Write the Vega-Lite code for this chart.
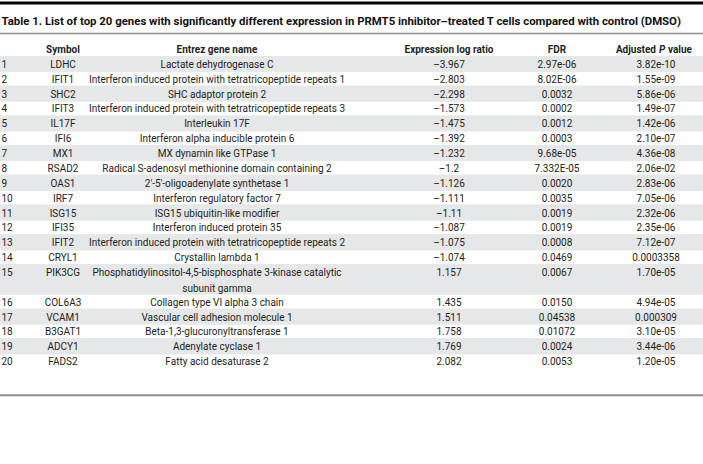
{
  "$schema": "https://vega.github.io/schema/vega-lite/v6.json",
  "width": 703,
  "height": 430,
  "autosize": {"type": "none"},
  "padding": {"top": 34, "left": 0, "right": 0, "bottom": 0},
  "background": "white",
  "config": {"view": {"stroke": null}},
  "datasets": {
    "genes": [
      {"n": 1, "line": 1, "lineEnd": 1, "symbol": "LDHC", "name": "Lactate dehydrogenase C", "ratio": "–3.967", "fdr": "2.97e-06", "padj": "3.82e-10"},
      {"n": 2, "line": 2, "lineEnd": 2, "symbol": "IFIT1", "name": "Interferon induced protein with tetratricopeptide repeats 1", "ratio": "–2.803", "fdr": "8.02E-06", "padj": "1.55e-09"},
      {"n": 3, "line": 3, "lineEnd": 3, "symbol": "SHC2", "name": "SHC adaptor protein 2", "ratio": "–2.298", "fdr": "0.0032", "padj": "5.86e-06"},
      {"n": 4, "line": 4, "lineEnd": 4, "symbol": "IFIT3", "name": "Interferon induced protein with tetratricopeptide repeats 3", "ratio": "–1.573", "fdr": "0.0002", "padj": "1.49e-07"},
      {"n": 5, "line": 5, "lineEnd": 5, "symbol": "IL17F", "name": "Interleukin 17F", "ratio": "–1.475", "fdr": "0.0012", "padj": "1.42e-06"},
      {"n": 6, "line": 6, "lineEnd": 6, "symbol": "IFI6", "name": "Interferon alpha inducible protein 6", "ratio": "–1.392", "fdr": "0.0003", "padj": "2.10e-07"},
      {"n": 7, "line": 7, "lineEnd": 7, "symbol": "MX1", "name": "MX dynamin like GTPase 1", "ratio": "–1.232", "fdr": "9.68e-05", "padj": "4.36e-08"},
      {"n": 8, "line": 8, "lineEnd": 8, "symbol": "RSAD2", "name": "Radical S-adenosyl methionine domain containing 2", "ratio": "–1.2", "fdr": "7.332E-05", "padj": "2.06e-02"},
      {"n": 9, "line": 9, "lineEnd": 9, "symbol": "OAS1", "name": "2′-5′-oligoadenylate synthetase 1", "ratio": "–1.126", "fdr": "0.0020", "padj": "2.83e-06"},
      {"n": 10, "line": 10, "lineEnd": 10, "symbol": "IRF7", "name": "Interferon regulatory factor 7", "ratio": "–1.111", "fdr": "0.0035", "padj": "7.05e-06"},
      {"n": 11, "line": 11, "lineEnd": 11, "symbol": "ISG15", "name": "ISG15 ubiquitin-like modifier", "ratio": "–1.11", "fdr": "0.0019", "padj": "2.32e-06"},
      {"n": 12, "line": 12, "lineEnd": 12, "symbol": "IFI35", "name": "Interferon induced protein 35", "ratio": "–1.087", "fdr": "0.0019", "padj": "2.35e-06"},
      {"n": 13, "line": 13, "lineEnd": 13, "symbol": "IFIT2", "name": "Interferon induced protein with tetratricopeptide repeats 2", "ratio": "–1.075", "fdr": "0.0008", "padj": "7.12e-07"},
      {"n": 14, "line": 14, "lineEnd": 14, "symbol": "CRYL1", "name": "Crystallin lambda 1", "ratio": "–1.074", "fdr": "0.0469", "padj": "0.0003358"},
      {"n": 15, "line": 15, "lineEnd": 16, "symbol": "PIK3CG", "name": "Phosphatidylinositol-4,5-bisphosphate 3-kinase catalytic\nsubunit gamma", "ratio": "1.157", "fdr": "0.0067", "padj": "1.70e-05"},
      {"n": 16, "line": 17, "lineEnd": 17, "symbol": "COL6A3", "name": "Collagen type VI alpha 3 chain", "ratio": "1.435", "fdr": "0.0150", "padj": "4.94e-05"},
      {"n": 17, "line": 18, "lineEnd": 18, "symbol": "VCAM1", "name": "Vascular cell adhesion molecule 1", "ratio": "1.511", "fdr": "0.04538", "padj": "0.000309"},
      {"n": 18, "line": 19, "lineEnd": 19, "symbol": "B3GAT1", "name": "Beta-1,3-glucuronyltransferase 1", "ratio": "1.758", "fdr": "0.01072", "padj": "3.10e-05"},
      {"n": 19, "line": 20, "lineEnd": 20, "symbol": "ADCY1", "name": "Adenylate cyclase 1", "ratio": "1.769", "fdr": "0.0024", "padj": "3.44e-06"},
      {"n": 20, "line": 21, "lineEnd": 21, "symbol": "FADS2", "name": "Fatty acid desaturase 2", "ratio": "2.082", "fdr": "0.0053", "padj": "1.20e-05"}
    ],
    "columns": [
      {"key": "n", "idx": 1, "line": 0, "header": ""},
      {"key": "symbol", "idx": 2, "line": 0, "header": "Symbol"},
      {"key": "name", "idx": 3, "line": 0, "header": "Entrez gene name"},
      {"key": "ratio", "idx": 4, "line": 0, "header": "Expression log ratio"},
      {"key": "fdr", "idx": 5, "line": 0, "header": "FDR"},
      {"key": "padj", "idx": 6, "line": 0, "header": "Adjusted P value"}
    ],
    "padjHeader": [
      {"idx": 6, "line": 0, "part": "Adjusted", "P": "P", "rest": "value"}
    ],
    "caption": [
      {"text": "Table 1. List of top 20 genes with significantly different expression in PRMT5 inhibitor–treated T cells compared with control (DMSO)"}
    ]
  },
  "layer": [
    {
      "data": {"name": "genes"},
      "transform": [{"filter": "datum.n % 2 == 1"}],
      "mark": {"type": "rule", "color": "#e6e7e8", "strokeWidth": 15.8},
      "encoding": {
        "y": {"field": "line", "type": "quantitative", "axis": null, "scale": {"domain": [0, 21], "range": [15, 342]}}
      }
    },
    {
      "data": {"name": "genes"},
      "transform": [{"filter": "datum.n % 2 == 1"}],
      "mark": {"type": "rule", "color": "#e6e7e8", "strokeWidth": 15.8},
      "encoding": {
        "y": {"field": "lineEnd", "type": "quantitative"}
      }
    },
    {
      "data": {"name": "caption"},
      "mark": {"type": "rule", "color": "#000000", "strokeWidth": 3},
      "encoding": {"y": {"datum": -3.1, "type": "quantitative"}}
    },
    {
      "data": {"name": "caption"},
      "mark": {"type": "rule", "color": "#8c8c8c", "strokeWidth": 1.5},
      "encoding": {"y": {"datum": -1.05, "type": "quantitative"}}
    },
    {
      "data": {"name": "caption"},
      "mark": {"type": "rule", "color": "#8c8c8c", "strokeWidth": 2},
      "encoding": {"y": {"datum": 23.3, "type": "quantitative"}}
    },
    {
      "data": {"name": "caption"},
      "mark": {"type": "text", "align": "left", "baseline": "alphabetic", "dy": 4.5, "font": "Roboto", "fontSize": 11.4, "fontWeight": "bold", "color": "#111111"},
      "encoding": {
        "x": {"datum": 1, "type": "quantitative", "axis": null, "scale": {"domain": [0, 1, 2, 3, 4, 5, 6, 7], "range": [0, 1.5, 63, 217, 449, 557, 656, 703]}},
        "y": {"datum": -1.92, "type": "quantitative"},
        "text": {"field": "text", "type": "nominal"}
      }
    },
    {
      "data": {"name": "genes"},
      "mark": {"type": "text", "align": "left", "baseline": "alphabetic", "dy": 4, "font": "Roboto", "fontSize": 10, "color": "#231f20"},
      "encoding": {
        "x": {"datum": 1, "type": "quantitative"},
        "y": {"field": "line", "type": "quantitative"},
        "text": {"field": "n", "type": "nominal"}
      }
    },
    {
      "data": {"name": "genes"},
      "transform": [
        {"fold": ["symbol", "name", "ratio", "fdr", "padj"], "as": ["key", "value"]},
        {"lookup": "key", "from": {"data": {"name": "columns"}, "key": "key", "fields": ["idx"]}}
      ],
      "mark": {"type": "text", "align": "center", "baseline": "alphabetic", "dy": 4, "lineBreak": "\n", "lineHeight": 15.55, "font": "Roboto", "fontSize": 10, "color": "#231f20"},
      "encoding": {
        "x": {"field": "idx", "type": "quantitative"},
        "y": {"field": "line", "type": "quantitative"},
        "text": {"field": "value", "type": "nominal"}
      }
    },
    {
      "data": {"name": "columns"},
      "transform": [{"filter": "datum.idx >= 2 && datum.idx <= 5"}],
      "mark": {"type": "text", "align": "center", "baseline": "alphabetic", "dy": 4, "font": "Roboto", "fontSize": 10, "fontWeight": "bold", "color": "#231f20"},
      "encoding": {
        "x": {"field": "idx", "type": "quantitative"},
        "y": {"field": "line", "type": "quantitative"},
        "text": {"field": "header", "type": "nominal"}
      }
    },
    {
      "data": {"name": "padjHeader"},
      "mark": {"type": "text", "align": "right", "baseline": "alphabetic", "dy": 4, "dx": 0, "font": "Roboto", "fontSize": 10, "fontWeight": "bold", "color": "#231f20"},
      "encoding": {
        "x": {"field": "idx", "type": "quantitative"},
        "y": {"field": "line", "type": "quantitative"},
        "text": {"field": "part", "type": "nominal"}
      }
    },
    {
      "data": {"name": "padjHeader"},
      "mark": {"type": "text", "align": "left", "baseline": "alphabetic", "dy": 4, "dx": 3, "font": "Roboto", "fontSize": 10, "fontWeight": "bold", "fontStyle": "italic", "color": "#231f20"},
      "encoding": {
        "x": {"field": "idx", "type": "quantitative"},
        "y": {"field": "line", "type": "quantitative"},
        "text": {"field": "P", "type": "nominal"}
      }
    },
    {
      "data": {"name": "padjHeader"},
      "mark": {"type": "text", "align": "left", "baseline": "alphabetic", "dy": 4, "dx": 12, "font": "Roboto", "fontSize": 10, "fontWeight": "bold", "color": "#231f20"},
      "encoding": {
        "x": {"field": "idx", "type": "quantitative"},
        "y": {"field": "line", "type": "quantitative"},
        "text": {"field": "rest", "type": "nominal"}
      }
    }
  ]
}
